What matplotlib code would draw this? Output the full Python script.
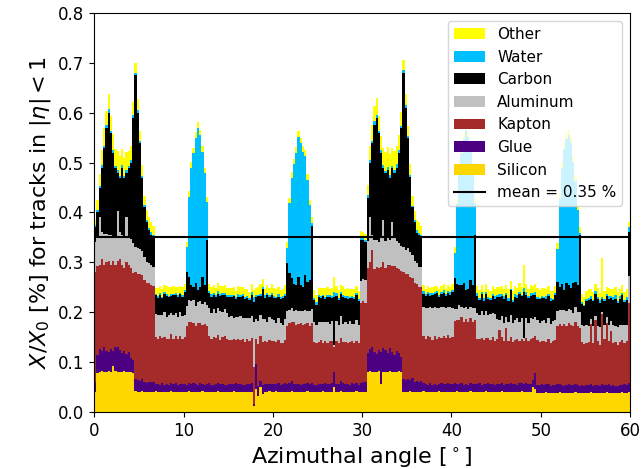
import numpy as np
import matplotlib
matplotlib.use("Agg")
import matplotlib.pyplot as plt

# === DATA (material budget per 0.25 deg bin, X/X0 in %) ===
bin_width = 0.25

silicon = [
    0.040, 0.078, 0.080, 0.081, 0.079, 0.080, 0.082, 0.080, 0.092, 0.081, 0.080, 0.079, 0.080, 0.081, 0.080, 0.079, 0.080, 0.078, 0.041, 0.040,
    0.040, 0.041, 0.040, 0.040, 0.039, 0.040, 0.040, 0.041, 0.040, 0.040, 0.040, 0.039, 0.040, 0.040, 0.041, 0.040, 0.040, 0.040, 0.040, 0.040,
    0.040, 0.040, 0.041, 0.040, 0.040, 0.039, 0.040, 0.040, 0.041, 0.040, 0.040, 0.040, 0.039, 0.040, 0.040, 0.041, 0.040, 0.040, 0.040, 0.039,
    0.040, 0.040, 0.041, 0.040, 0.040, 0.040, 0.039, 0.040, 0.040, 0.040, 0.040, 0.012, 0.046, 0.032, 0.050, 0.036, 0.040, 0.040, 0.041, 0.040,
    0.040, 0.041, 0.040, 0.040, 0.039, 0.040, 0.040, 0.040, 0.041, 0.040, 0.040, 0.039, 0.040, 0.040, 0.040, 0.041, 0.040, 0.040, 0.039, 0.040,
    0.040, 0.040, 0.041, 0.040, 0.040, 0.039, 0.040, 0.050, 0.040, 0.040, 0.041, 0.040, 0.040, 0.040, 0.039, 0.040, 0.040, 0.041, 0.040, 0.040,
    0.040, 0.040, 0.080, 0.081, 0.080, 0.079, 0.080, 0.081, 0.055, 0.080, 0.079, 0.080, 0.081, 0.080, 0.079, 0.080, 0.081, 0.080, 0.040, 0.040,
    0.040, 0.041, 0.040, 0.040, 0.039, 0.040, 0.040, 0.041, 0.040, 0.040, 0.040, 0.039, 0.040, 0.040, 0.041, 0.040, 0.040, 0.040, 0.039, 0.040,
    0.040, 0.040, 0.041, 0.040, 0.040, 0.039, 0.040, 0.040, 0.041, 0.040, 0.040, 0.040, 0.039, 0.040, 0.040, 0.041, 0.040, 0.040, 0.040, 0.039,
    0.040, 0.040, 0.041, 0.040, 0.040, 0.040, 0.039, 0.040, 0.040, 0.040, 0.040, 0.041, 0.040, 0.040, 0.039, 0.040, 0.050, 0.046, 0.038, 0.038,
    0.038, 0.038, 0.039, 0.038, 0.038, 0.037, 0.038, 0.038, 0.039, 0.038, 0.038, 0.038, 0.037, 0.038, 0.038, 0.039, 0.038, 0.038, 0.038, 0.037,
    0.038, 0.038, 0.039, 0.038, 0.038, 0.038, 0.037, 0.038, 0.038, 0.039, 0.038, 0.038, 0.038, 0.037, 0.038, 0.038, 0.039, 0.038, 0.038, 0.040,
]

glue = [
    0.020, 0.035, 0.045, 0.040, 0.050, 0.042, 0.038, 0.045, 0.030, 0.048, 0.050, 0.044, 0.038, 0.040, 0.035, 0.040, 0.028, 0.025, 0.025, 0.024,
    0.022, 0.024, 0.020, 0.018, 0.021, 0.019, 0.020, 0.015, 0.016, 0.014, 0.017, 0.015, 0.016, 0.013, 0.017, 0.015, 0.018, 0.014, 0.016, 0.015,
    0.016, 0.014, 0.017, 0.015, 0.018, 0.016, 0.014, 0.017, 0.015, 0.013, 0.016, 0.018, 0.015, 0.014, 0.016, 0.017, 0.015, 0.016, 0.014, 0.015,
    0.015, 0.016, 0.014, 0.017, 0.015, 0.016, 0.015, 0.014, 0.016, 0.015, 0.017, 0.003, 0.050, 0.020, 0.012, 0.018, 0.015, 0.016, 0.014, 0.015,
    0.016, 0.015, 0.017, 0.014, 0.016, 0.018, 0.015, 0.017, 0.020, 0.016, 0.015, 0.017, 0.014, 0.016, 0.015, 0.017, 0.016, 0.018, 0.015, 0.014,
    0.015, 0.016, 0.014, 0.017, 0.015, 0.016, 0.018, 0.030, 0.016, 0.015, 0.020, 0.017, 0.015, 0.016, 0.014, 0.017, 0.015, 0.016, 0.014, 0.018,
    0.020, 0.020, 0.038, 0.045, 0.050, 0.040, 0.036, 0.042, 0.065, 0.048, 0.044, 0.038, 0.046, 0.040, 0.035, 0.042, 0.036, 0.030, 0.026, 0.024,
    0.025, 0.022, 0.028, 0.020, 0.022, 0.019, 0.021, 0.016, 0.015, 0.014, 0.017, 0.015, 0.016, 0.014, 0.015, 0.017, 0.016, 0.015, 0.018, 0.016,
    0.015, 0.017, 0.014, 0.016, 0.018, 0.015, 0.016, 0.014, 0.017, 0.015, 0.016, 0.015, 0.018, 0.014, 0.016, 0.015, 0.017, 0.016, 0.015, 0.014,
    0.016, 0.015, 0.017, 0.014, 0.016, 0.015, 0.018, 0.016, 0.015, 0.014, 0.017, 0.016, 0.015, 0.018, 0.016, 0.015, 0.014, 0.032, 0.016, 0.015,
    0.017, 0.015, 0.016, 0.018, 0.014, 0.016, 0.015, 0.017, 0.016, 0.015, 0.014, 0.016, 0.018, 0.015, 0.016, 0.017, 0.015, 0.014, 0.016, 0.015,
    0.016, 0.015, 0.017, 0.014, 0.016, 0.015, 0.014, 0.018, 0.016, 0.015, 0.017, 0.014, 0.016, 0.015, 0.013, 0.016, 0.015, 0.017, 0.016, 0.018,
]

kapton = [
    0.220, 0.180, 0.170, 0.185, 0.165, 0.178, 0.182, 0.170, 0.180, 0.165, 0.172, 0.183, 0.176, 0.168, 0.185, 0.175, 0.180, 0.175, 0.215, 0.212,
    0.215, 0.210, 0.205, 0.200, 0.198, 0.195, 0.192, 0.095, 0.090, 0.098, 0.092, 0.096, 0.090, 0.094, 0.099, 0.091, 0.095, 0.093, 0.097, 0.092,
    0.094, 0.118, 0.122, 0.125, 0.120, 0.118, 0.124, 0.121, 0.119, 0.123, 0.117, 0.095, 0.092, 0.097, 0.093, 0.096, 0.090, 0.094, 0.098, 0.092,
    0.090, 0.088, 0.092, 0.087, 0.091, 0.089, 0.093, 0.086, 0.090, 0.088, 0.092, 0.075, 0.050, 0.085, 0.090, 0.086, 0.088, 0.084, 0.090, 0.087,
    0.086, 0.084, 0.088, 0.085, 0.083, 0.087, 0.118, 0.122, 0.120, 0.124, 0.119, 0.121, 0.125, 0.118, 0.122, 0.120, 0.117, 0.121, 0.086, 0.084,
    0.085, 0.088, 0.083, 0.086, 0.084, 0.087, 0.085, 0.050, 0.086, 0.083, 0.088, 0.084, 0.086, 0.082, 0.087, 0.085, 0.083, 0.086, 0.084, 0.160,
    0.162, 0.158, 0.170, 0.175, 0.195, 0.168, 0.174, 0.165, 0.170, 0.172, 0.166, 0.176, 0.168, 0.172, 0.178, 0.166, 0.170, 0.172, 0.215, 0.212,
    0.212, 0.208, 0.200, 0.198, 0.195, 0.192, 0.190, 0.096, 0.092, 0.098, 0.094, 0.090, 0.097, 0.093, 0.095, 0.091, 0.096, 0.094, 0.098, 0.092,
    0.095, 0.125, 0.130, 0.128, 0.132, 0.126, 0.130, 0.127, 0.131, 0.125, 0.128, 0.092, 0.090, 0.094, 0.088, 0.093, 0.091, 0.089, 0.095, 0.090,
    0.090, 0.110, 0.092, 0.088, 0.112, 0.087, 0.093, 0.085, 0.089, 0.092, 0.086, 0.090, 0.088, 0.091, 0.087, 0.092, 0.084, 0.075, 0.090, 0.088,
    0.088, 0.090, 0.086, 0.091, 0.087, 0.089, 0.092, 0.118, 0.122, 0.120, 0.125, 0.119, 0.123, 0.121, 0.118, 0.124, 0.120, 0.116, 0.086, 0.084,
    0.085, 0.088, 0.120, 0.086, 0.130, 0.090, 0.084, 0.140, 0.092, 0.125, 0.087, 0.110, 0.085, 0.089, 0.083, 0.087, 0.090, 0.084, 0.088, 0.160,
]

aluminum = [
    0.060, 0.058, 0.095, 0.055, 0.062, 0.056, 0.052, 0.060, 0.050, 0.058, 0.100, 0.054, 0.060, 0.062, 0.090, 0.056, 0.058, 0.060, 0.050, 0.052,
    0.050, 0.048, 0.045, 0.042, 0.040, 0.040, 0.038, 0.045, 0.048, 0.042, 0.046, 0.050, 0.044, 0.047, 0.041, 0.049, 0.045, 0.043, 0.048, 0.046,
    0.045, 0.040, 0.044, 0.042, 0.046, 0.040, 0.043, 0.045, 0.041, 0.044, 0.042, 0.055, 0.052, 0.056, 0.050, 0.054, 0.057, 0.051, 0.055, 0.053,
    0.045, 0.048, 0.042, 0.046, 0.044, 0.047, 0.041, 0.049, 0.043, 0.046, 0.044, 0.090, 0.040, 0.045, 0.042, 0.047, 0.043, 0.040, 0.046, 0.044,
    0.042, 0.038, 0.044, 0.040, 0.036, 0.041, 0.030, 0.025, 0.028, 0.022, 0.030, 0.026, 0.024, 0.029, 0.027, 0.025, 0.030, 0.028, 0.040, 0.037,
    0.040, 0.036, 0.042, 0.038, 0.041, 0.035, 0.039, 0.005, 0.040, 0.037, 0.043, 0.036, 0.040, 0.038, 0.042, 0.035, 0.039, 0.041, 0.037, 0.045,
    0.045, 0.046, 0.055, 0.090, 0.030, 0.058, 0.055, 0.052, 0.060, 0.085, 0.054, 0.056, 0.050, 0.088, 0.056, 0.055, 0.052, 0.050, 0.050, 0.048,
    0.052, 0.050, 0.046, 0.044, 0.042, 0.040, 0.040, 0.058, 0.062, 0.056, 0.060, 0.064, 0.058, 0.061, 0.057, 0.063, 0.059, 0.060, 0.056, 0.062,
    0.058, 0.025, 0.022, 0.030, 0.020, 0.028, 0.024, 0.026, 0.021, 0.029, 0.025, 0.052, 0.048, 0.055, 0.050, 0.053, 0.047, 0.051, 0.049, 0.054,
    0.040, 0.020, 0.043, 0.036, 0.022, 0.039, 0.044, 0.037, 0.040, 0.042, 0.038, 0.041, 0.005, 0.040, 0.036, 0.042, 0.039, 0.037, 0.041, 0.038,
    0.040, 0.042, 0.038, 0.041, 0.037, 0.040, 0.039, 0.030, 0.028, 0.032, 0.027, 0.030, 0.029, 0.031, 0.026, 0.030, 0.028, 0.032, 0.034, 0.036,
    0.035, 0.032, 0.010, 0.034, 0.008, 0.030, 0.036, 0.005, 0.028, 0.012, 0.033, 0.020, 0.036, 0.031, 0.037, 0.034, 0.030, 0.035, 0.032, 0.055,
]

carbon = [
    0.030, 0.049, 0.060, 0.129, 0.174, 0.214, 0.246, 0.205, 0.168, 0.138, 0.078, 0.110, 0.136, 0.119, 0.090, 0.140, 0.154, 0.252, 0.344, 0.272,
    0.213, 0.147, 0.100, 0.080, 0.067, 0.061, 0.060, 0.038, 0.035, 0.040, 0.033, 0.037, 0.042, 0.036, 0.034, 0.039, 0.036, 0.041, 0.035, 0.038,
    0.045, 0.068, 0.047, 0.033, 0.026, 0.046, 0.024, 0.027, 0.055, 0.035, 0.130, 0.030, 0.033, 0.028, 0.032, 0.029, 0.031, 0.034, 0.027, 0.032,
    0.040, 0.038, 0.043, 0.036, 0.041, 0.039, 0.044, 0.037, 0.040, 0.035, 0.042, 0.040, 0.045, 0.050, 0.038, 0.060, 0.042, 0.055, 0.040, 0.048,
    0.045, 0.050, 0.042, 0.048, 0.055, 0.046, 0.095, 0.075, 0.060, 0.055, 0.050, 0.068, 0.052, 0.048, 0.070, 0.058, 0.062, 0.165, 0.045, 0.040,
    0.050, 0.048, 0.052, 0.046, 0.050, 0.054, 0.047, 0.095, 0.051, 0.049, 0.045, 0.053, 0.048, 0.050, 0.046, 0.052, 0.049, 0.051, 0.048, 0.082,
    0.078, 0.076, 0.087, 0.109, 0.185, 0.230, 0.245, 0.220, 0.170, 0.105, 0.137, 0.135, 0.125, 0.110, 0.132, 0.147, 0.181, 0.238, 0.349, 0.286,
    0.221, 0.150, 0.096, 0.078, 0.061, 0.064, 0.059, 0.026, 0.024, 0.028, 0.022, 0.027, 0.025, 0.030, 0.023, 0.026, 0.028, 0.024, 0.027, 0.025,
    0.032, 0.061, 0.050, 0.040, 0.045, 0.050, 0.035, 0.040, 0.055, 0.045, 0.145, 0.034, 0.030, 0.033, 0.029, 0.035, 0.031, 0.028, 0.034, 0.030,
    0.044, 0.046, 0.040, 0.048, 0.045, 0.042, 0.050, 0.043, 0.047, 0.041, 0.055, 0.044, 0.092, 0.046, 0.050, 0.043, 0.048, 0.045, 0.042, 0.047,
    0.045, 0.043, 0.048, 0.044, 0.046, 0.042, 0.050, 0.058, 0.046, 0.052, 0.040, 0.055, 0.048, 0.044, 0.060, 0.050, 0.053, 0.154, 0.042, 0.040,
    0.048, 0.052, 0.040, 0.050, 0.045, 0.053, 0.047, 0.025, 0.049, 0.042, 0.051, 0.046, 0.050, 0.055, 0.048, 0.052, 0.060, 0.047, 0.050, 0.087,
]

water = [
    0.004, 0.005, 0.003, 0.006, 0.004, 0.005, 0.008, 0.004, 0.005, 0.003, 0.006, 0.004, 0.005, 0.003, 0.006, 0.004, 0.005, 0.006, 0.004, 0.005,
    0.004, 0.003, 0.005, 0.004, 0.003, 0.005, 0.004, 0.003, 0.004, 0.005, 0.003, 0.004, 0.005, 0.003, 0.004, 0.003, 0.005, 0.004, 0.003, 0.004,
    0.005, 0.050, 0.160, 0.235, 0.270, 0.290, 0.325, 0.305, 0.250, 0.225, 0.075, 0.004, 0.005, 0.003, 0.004, 0.006, 0.003, 0.004, 0.005, 0.003,
    0.004, 0.005, 0.003, 0.004, 0.006, 0.003, 0.004, 0.005, 0.003, 0.004, 0.005, 0.010, 0.004, 0.003, 0.005, 0.004, 0.006, 0.003, 0.004, 0.005,
    0.004, 0.003, 0.005, 0.004, 0.003, 0.005, 0.030, 0.140, 0.200, 0.240, 0.265, 0.280, 0.285, 0.270, 0.240, 0.205, 0.150, 0.006, 0.004, 0.005,
    0.004, 0.005, 0.003, 0.004, 0.005, 0.003, 0.004, 0.010, 0.005, 0.004, 0.003, 0.005, 0.004, 0.006, 0.003, 0.004, 0.005, 0.004, 0.003, 0.006,
    0.005, 0.004, 0.006, 0.005, 0.004, 0.008, 0.005, 0.004, 0.006, 0.005, 0.004, 0.006, 0.005, 0.004, 0.006, 0.008, 0.005, 0.004, 0.006, 0.005,
    0.004, 0.005, 0.003, 0.004, 0.005, 0.003, 0.004, 0.005, 0.003, 0.004, 0.005, 0.003, 0.004, 0.005, 0.003, 0.004, 0.005, 0.003, 0.004, 0.005,
    0.004, 0.050, 0.160, 0.230, 0.265, 0.290, 0.320, 0.305, 0.260, 0.225, 0.065, 0.005, 0.003, 0.004, 0.006, 0.003, 0.005, 0.004, 0.003, 0.005,
    0.004, 0.005, 0.003, 0.006, 0.004, 0.005, 0.003, 0.004, 0.006, 0.005, 0.004, 0.003, 0.008, 0.005, 0.004, 0.006, 0.003, 0.005, 0.004, 0.003,
    0.004, 0.003, 0.005, 0.004, 0.006, 0.003, 0.004, 0.066, 0.178, 0.232, 0.284, 0.289, 0.301, 0.290, 0.244, 0.204, 0.151, 0.004, 0.005, 0.003,
    0.005, 0.004, 0.006, 0.003, 0.005, 0.004, 0.006, 0.005, 0.004, 0.003, 0.006, 0.004, 0.005, 0.008, 0.004, 0.006, 0.005, 0.004, 0.006, 0.010,
]

other = [
    0.010, 0.020, 0.025, 0.030, 0.035, 0.028, 0.030, 0.030, 0.032, 0.035, 0.038, 0.040, 0.032, 0.036, 0.035, 0.030, 0.028, 0.025, 0.020, 0.022,
    0.020, 0.022, 0.018, 0.020, 0.022, 0.020, 0.018, 0.012, 0.015, 0.014, 0.016, 0.013, 0.015, 0.017, 0.014, 0.016, 0.012, 0.015, 0.014, 0.016,
    0.012, 0.010, 0.012, 0.012, 0.010, 0.013, 0.012, 0.011, 0.012, 0.010, 0.012, 0.015, 0.014, 0.016, 0.013, 0.015, 0.017, 0.014, 0.016, 0.015,
    0.015, 0.014, 0.016, 0.013, 0.015, 0.017, 0.014, 0.016, 0.015, 0.013, 0.016, 0.015, 0.014, 0.016, 0.020, 0.015, 0.013, 0.016, 0.014, 0.017,
    0.015, 0.016, 0.014, 0.013, 0.015, 0.017, 0.012, 0.010, 0.012, 0.011, 0.013, 0.012, 0.010, 0.012, 0.011, 0.012, 0.010, 0.012, 0.015, 0.014,
    0.015, 0.016, 0.014, 0.017, 0.015, 0.013, 0.016, 0.030, 0.014, 0.016, 0.015, 0.017, 0.014, 0.016, 0.015, 0.013, 0.016, 0.014, 0.017, 0.012,
    0.010, 0.012, 0.020, 0.028, 0.032, 0.030, 0.035, 0.030, 0.028, 0.035, 0.038, 0.040, 0.042, 0.035, 0.038, 0.036, 0.030, 0.028, 0.020, 0.022,
    0.020, 0.022, 0.020, 0.018, 0.020, 0.022, 0.018, 0.012, 0.010, 0.012, 0.011, 0.013, 0.012, 0.010, 0.012, 0.011, 0.013, 0.010, 0.012, 0.011,
    0.012, 0.012, 0.010, 0.012, 0.011, 0.012, 0.010, 0.012, 0.011, 0.012, 0.010, 0.014, 0.016, 0.015, 0.013, 0.017, 0.015, 0.014, 0.016, 0.015,
    0.016, 0.015, 0.017, 0.014, 0.016, 0.018, 0.015, 0.017, 0.016, 0.014, 0.018, 0.015, 0.047, 0.016, 0.015, 0.017, 0.014, 0.016, 0.018, 0.015,
    0.016, 0.018, 0.015, 0.017, 0.014, 0.016, 0.015, 0.012, 0.010, 0.012, 0.011, 0.012, 0.010, 0.012, 0.011, 0.012, 0.010, 0.012, 0.016, 0.015,
    0.015, 0.017, 0.014, 0.016, 0.015, 0.018, 0.014, 0.077, 0.016, 0.015, 0.017, 0.014, 0.016, 0.015, 0.017, 0.014, 0.016, 0.015, 0.017, 0.010,
]

mean_value = 0.35

layers = [
    ("Silicon", silicon, "gold"),
    ("Glue", glue, "indigo"),
    ("Kapton", kapton, "brown"),
    ("Aluminum", aluminum, "silver"),
    ("Carbon", carbon, "black"),
    ("Water", water, "deepskyblue"),
    ("Other", other, "yellow"),
]

# === PLOT ===
n_bins = len(silicon)
edges = np.arange(n_bins + 1) * bin_width

fig = plt.figure(figsize=(6.41, 4.69), dpi=100)
ax = fig.add_axes([0.147, 0.122, 0.836, 0.850])

bottom = np.zeros(n_bins)
handles = []
for name, values, color in layers:
    top = bottom + np.array(values)
    h = ax.stairs(top, edges, baseline=bottom, fill=True, color=color,
                  linewidth=0, label=name)
    handles.append(h)
    bottom = top

mean_line = ax.axhline(mean_value, color="black", linewidth=1.5,
                       label=f"mean = {mean_value:.2f} %")

ax.set_xlim(0, 60)
ax.set_ylim(0, 0.8)
ax.set_xticks(np.arange(0, 61, 10))
ax.set_yticks(np.arange(0, 0.81, 0.1))
ax.tick_params(labelsize=12)

ax.set_xlabel(r"Azimuthal angle [$^\circ$]", fontsize=16)
ax.set_ylabel(r"$X/X_0$ [%] for tracks in $|\eta| < 1$", fontsize=16)

ax.legend(handles[::-1] + [mean_line], [l[0] for l in layers[::-1]] + [mean_line.get_label()],
          loc="upper right", fontsize=11, handlelength=2.0)

plt.savefig("out.png", dpi=100)
plt.close()
